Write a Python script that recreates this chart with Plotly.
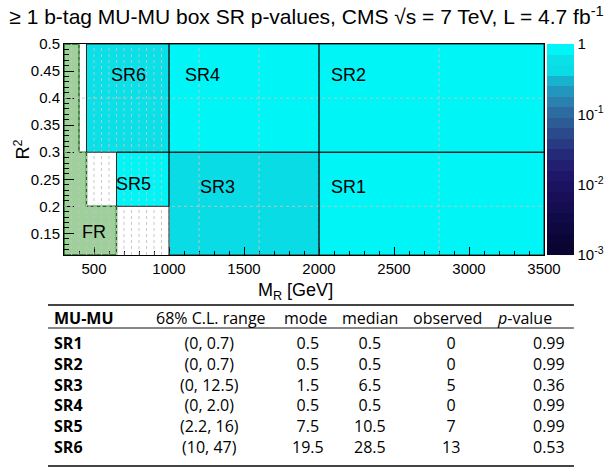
import numpy as np
import plotly.graph_objects as go

# ---------------- data ----------------
sr_names = ["SR1", "SR2", "SR3", "SR4", "SR5", "SR6"]
sr_mr_lo = [2000, 2000, 1000, 1000, 650, 450]
sr_mr_hi = [3500, 3500, 2000, 2000, 1000, 1000]
sr_r2_lo = [0.11, 0.3, 0.11, 0.3, 0.2, 0.3]
sr_r2_hi = [0.3, 0.5, 0.3, 0.5, 0.3, 0.5]

cl_ranges = ["(0, 0.7)", "(0, 0.7)", "(0, 12.5)", "(0, 2.0)", "(2.2, 16)", "(10, 47)"]
modes = [0.5, 0.5, 1.5, 0.5, 7.5, 19.5]
medians = [0.5, 0.5, 6.5, 0.5, 10.5, 28.5]
observed = [0, 0, 5, 0, 7, 13]
p_values = [0.99, 0.99, 0.36, 0.99, 0.99, 0.53]

# fit region (FR) boundary
fr_mr = [300, 650, 650, 450, 450, 400, 400, 300, 300]
fr_r2 = [0.11, 0.11, 0.2, 0.2, 0.3, 0.3, 0.5, 0.5, 0.11]

# analysis binning
mr_bins = [300, 350, 400, 450, 500, 550, 600, 650, 700, 750, 800, 850, 900, 950,
           1000, 1200, 1600, 2000, 2800, 3500]
r2_bins = [0.11, 0.2, 0.3, 0.4, 0.5]

x_tick_vals = [500, 1000, 1500, 2000, 2500, 3000, 3500]
y_tick_vals = [0.15, 0.2, 0.25, 0.3, 0.35, 0.4, 0.45, 0.5]
y_tick_text = ["0.15", "0.2", "0.25", "0.3", "0.35", "0.4", "0.45", "0.5"]
cbar_exponents = [-3, -2, -1, 0]
cbar_tick_text = ["10<sup>-3</sup>", "10<sup>-2</sup>", "10<sup>-1</sup>", "1"]

table_header = ["MU-MU", "68% C.L. range", "mode", "median", "observed", "<i>p</i>-value"]

# ---------------- geometry helpers ----------------
W, H = 613, 473
ML, MR_, MT, MB = 64, 68, 44, 218
PW, PH = W - ML - MR_, H - MT - MB


def fx(px):
    return (px - ML) / PW


def fy(py):
    return (H - MB - py) / PH


FONT = "Liberation Sans, Arial, sans-serif"
TFONT = "Open Sans, sans-serif"

# ---------------- colour scale (log10 p, 20 bands) ----------------
band_colors = ["#0a0530", "#0c0638", "#0e0840", "#110a48", "#140d50", "#180f58",
               "#1b1260", "#1e1668", "#221e70", "#252a78", "#283a82", "#2b4a8c",
               "#2d5b96", "#2c6ca0", "#2a80ae", "#2296bc", "#18b2ce", "#0adce6",
               "#0ae0e8", "#00f6f6"]
nb = len(band_colors)
colorscale = []
for i, c in enumerate(band_colors):
    colorscale.append([i / nb, c])
    colorscale.append([(i + 1) / nb, c])

# ---------------- heatmap grid built from region bounds ----------------
xe = sorted(set(sr_mr_lo + sr_mr_hi))
ye = sorted(set(sr_r2_lo + sr_r2_hi))
z = np.full((len(ye) - 1, len(xe) - 1), np.nan)
for j in range(len(ye) - 1):
    for i in range(len(xe) - 1):
        cx = 0.5 * (xe[i] + xe[i + 1])
        cy = 0.5 * (ye[j] + ye[j + 1])
        for k in range(len(sr_names)):
            if sr_mr_lo[k] < cx < sr_mr_hi[k] and sr_r2_lo[k] < cy < sr_r2_hi[k]:
                z[j, i] = np.log10(p_values[k])
zl = [[None if np.isnan(v) else float(v) for v in row] for row in z]

fig = go.Figure()
fig.add_trace(go.Heatmap(
    x=xe, y=ye, z=zl, zmin=-3, zmax=0, colorscale=colorscale,
    hoverinfo="skip",
    colorbar=dict(
        x=1, xanchor="left", xpad=2, thickness=27, len=1, lenmode="fraction",
        y=0.5, yanchor="middle", ypad=0, outlinewidth=0,
        tickmode="array", tickvals=cbar_exponents, ticktext=cbar_tick_text,
        ticks="", tickfont=dict(family=FONT, size=15, color="black"),
    ),
))

fig.add_trace(go.Scatter(
    x=fr_mr, y=fr_r2, mode="lines", fill="toself",
    fillcolor="#9fcf9b", line=dict(color="#1a6a1a", width=1.5),
    hoverinfo="skip", showlegend=False,
))

shapes = []
# dashed binning grid
for b in mr_bins[1:-1]:
    shapes.append(dict(type="line", xref="x", yref="y", x0=b, x1=b, y0=r2_bins[0], y1=r2_bins[-1],
                       line=dict(color="rgba(195,195,195,0.9)", width=1, dash="3px,3px"), layer="above"))
for b in r2_bins[1:-1]:
    shapes.append(dict(type="line", xref="x", yref="y", x0=mr_bins[0], x1=mr_bins[-1], y0=b, y1=b,
                       line=dict(color="rgba(195,195,195,0.9)", width=1, dash="3px,3px"), layer="above"))
# region outlines
for k in range(len(sr_names)):
    shapes.append(dict(type="rect", xref="x", yref="y",
                       x0=sr_mr_lo[k], x1=sr_mr_hi[k], y0=sr_r2_lo[k], y1=sr_r2_hi[k],
                       line=dict(color="rgba(20,20,20,0.9)", width=1), layer="above"))

# colour bar ticks (major and minor on a log axis)
cb_x1 = 1 + 29 / PW
for e in range(-3, 0):
    for m in range(1, 10):
        v = np.log10(m) + e
        y = (v + 3) / 3
        ln = 12 if m == 1 else 6
        shapes.append(dict(type="line", xref="paper", yref="paper",
                           x0=cb_x1 - ln / PW, x1=cb_x1, y0=y, y1=y,
                           line=dict(color="rgba(235,235,235,0.9)", width=1), layer="above"))

annotations = []
# region labels
label_pos = {"SR6": (600, 0.442), "SR4": (1090, 0.442), "SR2": (2065, 0.442),
             "SR5": (635, 0.242), "SR3": (1190, 0.236), "SR1": (2065, 0.236),
             "FR": (405, 0.152)}
for name, (lx, ly) in label_pos.items():
    annotations.append(dict(x=lx, y=ly, xref="x", yref="y", text=name, showarrow=False,
                            xanchor="left", yanchor="middle",
                            font=dict(family=FONT, size=18, color="black")))

# axis titles
annotations.append(dict(x=fx(22), y=0.5, xref="paper", yref="paper",
                        xanchor="center", yanchor="middle",
                        text="R<sup>2</sup>", textangle=-90, showarrow=False,
                        font=dict(family=FONT, size=18, color="black")))
annotations.append(dict(x=fx(296), y=fy(291), xref="paper", yref="paper",
                        xanchor="center", yanchor="middle",
                        text="M<sub>R</sub> [GeV]", showarrow=False,
                        font=dict(family=FONT, size=18, color="black")))

# results table: header row, then one text block per column
hdr_x = [52, 211, 306, 371, 448, 525]
val_x = [52, 210, 309, 371, 452, 550]
for c, h in enumerate(table_header):
    annotations.append(dict(x=fx(hdr_x[c]), y=fy(318), xref="paper", yref="paper",
                            text=("<b>%s</b>" % h if c == 0 else h),
                            showarrow=False, xanchor="left" if c == 0 else "center", yanchor="middle",
                            font=dict(family=TFONT, size=16, color="black")))
columns = [
    ["<b>%s</b>" % s for s in sr_names],
    cl_ranges,
    [str(v) for v in modes],
    [str(v) for v in medians],
    [str(v) for v in observed],
    ["%.2f" % v for v in p_values],
]
for c, col in enumerate(columns):
    annotations.append(dict(x=fx(val_x[c]), y=fy(329.5), xref="paper", yref="paper",
                            text="<br>".join(col), showarrow=False,
                            xanchor="left" if c == 0 else "center",
                            align="left" if c == 0 else "center",
                            yanchor="top", font=dict(family=TFONT, size=16, color="black")))
for py, lw, col in [(305, 2, "#444"), (328, 1, "#111"), (466, 2, "#444")]:
    shapes.append(dict(type="line", xref="paper", yref="paper", x0=fx(48), x1=fx(575),
                       y0=fy(py), y1=fy(py), line=dict(color=col, width=lw)))

fig.update_layout(
    width=W, height=H, margin=dict(l=ML, r=MR_, t=MT, b=MB),
    paper_bgcolor="white", plot_bgcolor="white",
    showlegend=False,
    title=dict(text="\u2265 1 b-tag MU-MU box SR p-values, CMS \u221as = 7 TeV, L = 4.7 fb<sup>-1</sup>",
               x=0.5, xref="container", xanchor="center", y=1 - 17 / H, yanchor="middle",
               font=dict(family=FONT, size=21, color="black")),
    shapes=shapes, annotations=annotations,
    xaxis=dict(range=[300, 3500], showgrid=False, zeroline=False, showline=True, mirror=True,
               linecolor="black", linewidth=1, ticks="inside", ticklen=8, tickcolor="black",
               tickmode="array", tickvals=x_tick_vals,
               tickfont=dict(family=FONT, size=15, color="black"),
               minor=dict(ticks="inside", ticklen=4, tickmode="linear", tick0=300, dtick=100,
                          tickcolor="black", showgrid=False)),
    yaxis=dict(range=[0.11, 0.5], showgrid=False, zeroline=False, showline=True, mirror=True,
               linecolor="black", linewidth=1, ticks="inside", ticklen=10, tickcolor="black",
               tickmode="array", tickvals=y_tick_vals, ticktext=y_tick_text,
               tickfont=dict(family=FONT, size=15, color="black"),
               minor=dict(ticks="inside", ticklen=5, tickmode="linear", tick0=0.11, dtick=0.01,
                          tickcolor="black", showgrid=False)),
)

fig.write_html("out.html")
